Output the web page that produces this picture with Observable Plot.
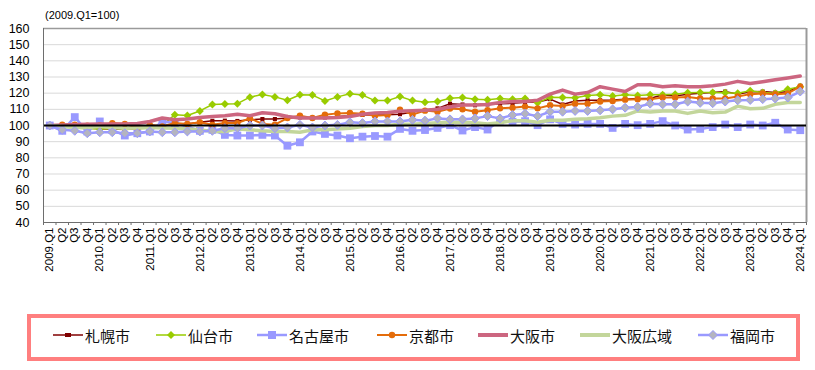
<!DOCTYPE html>
<html><head><meta charset="utf-8">
<script src="https://cdn.jsdelivr.net/npm/d3@7"></script>
<script src="https://cdn.jsdelivr.net/npm/@observablehq/plot@0.6"></script>
<style>
body{margin:0;background:#fff;font-family:"Liberation Sans",Arial,"Noto Sans CJK JP",sans-serif;}
#wrap{position:relative;width:815px;height:370px;overflow:hidden;}
#chart{position:absolute;left:0;top:0;}
#title{position:absolute;left:45px;top:9px;font-size:11px;color:#000;}
#legendBox{position:absolute;left:27px;top:314px;width:773px;height:47px;border:4.5px solid #FF7F7F;box-sizing:border-box;}
.item{position:absolute;top:325px;height:20px;display:flex;align-items:center;font-size:15px;font-family:"Noto Sans CJK JP",sans-serif;color:#111;white-space:nowrap;}
.item svg{margin-right:2px;}
</style>
</head><body>
<div id="wrap">
  <div id="chart"></div>
  <div id="title">(2009.Q1=100)</div>
  <div id="legendBox"></div>
</div>
<script>
// ---- data ----
const quarters = ["2009.Q1","Q2","Q3","Q4","2010.Q1","Q2","Q3","Q4","2011.Q1","Q2","Q3","Q4",
"2012.Q1","Q2","Q3","Q4","2013.Q1","Q2","Q3","Q4","2014.Q1","Q2","Q3","Q4","2015.Q1","Q2","Q3","Q4",
"2016.Q1","Q2","Q3","Q4","2017.Q1","Q2","Q3","Q4","2018.Q1","Q2","Q3","Q4","2019.Q1","Q2","Q3","Q4",
"2020.Q1","Q2","Q3","Q4","2021.Q1","Q2","Q3","Q4","2022.Q1","Q2","Q3","Q4","2023.Q1","Q2","Q3","Q4","2024.Q1"];

const seriesNames = ["札幌市","仙台市","名古屋市","京都市","大阪市","大阪広域","福岡市"];

const sapporo = [100,99.5,99,98.5,98,97.8,97.5,98,99,100,100.5,101,102,102.9,103,102.8,103.5,104,104,104.6,
105,104.5,105,105.5,106,106.5,106.5,106.7,107,108.3,109.4,110.6,113.5,113,112.5,113,113.5,113.7,114.4,114.6,
116.3,113,115.2,115.6,115.6,115.8,116.3,116.7,116.7,119,118.3,119.4,120,120.4,121,119.4,120.8,121,120.4,120.8,124.6];

const sendai = [100,99,98.5,98,98,98,98,98,98.5,100,106.7,106.2,109,113,113.3,113.5,117.5,119.2,117.7,115.6,
119,118.8,115.2,117.7,119.6,118.8,115.4,115.4,117.9,115.4,114.4,114.8,116.9,117.3,116.3,116,116.7,116.2,116.7,114,
117.5,117.3,117.1,118.5,119,118.3,119,118.5,119,119,119.4,120.2,120.4,120.4,120.2,120,121.5,120.4,120,122.5,124];

const nagoya = [100,96.7,105.2,96.3,102.5,97.3,93.8,95.2,96.3,102.5,101.5,99.4,96.7,97.3,94.2,93.8,93.8,94.2,93.8,87.5,
89.6,96.3,94.8,93.8,92.1,93.1,93.5,93.1,97.9,96.7,97.2,98.5,100.2,96.9,99,97.5,103.1,102.3,102.7,100.2,
103.8,101,100.6,101,101,98.5,101,100.2,101,102.7,100,97.5,97.9,99,100.6,99,100.6,100,101.7,97.5,97.1];

const kyoto = [100,100.5,100.5,99.8,100,101.5,101,98.5,100.4,99.4,101.5,101,102,100.4,101.5,101.5,104.5,101,100.5,104.6,
106,104.6,106.7,107.5,107.7,107.3,106,106.5,109.8,106.7,109.2,108.5,110.5,110,108.5,109.5,110.6,111,111.7,110.6,
112.5,112,113.5,113.5,114.8,115.2,116,116.2,116.2,117.3,117.3,117.7,116.7,116.7,116.7,117.9,119.4,119.8,119.4,119.8,124];

const osaka = [100,100.3,100.6,100.8,101,101,101,101.3,102.5,104.6,103.5,104,105,105.6,106,107,106,107.9,107.3,105.6,
104.6,104.6,104.6,105,105.6,107,107.7,108.1,108.8,109.2,109.4,110,111.5,112.7,112.7,113,114.2,114.8,114.8,115.6,
119.4,121.9,119.4,120.4,124,122.5,121,125.2,125.2,124,124.6,124,124,124.6,125.6,127.3,126,127.1,128.3,129.4,130.6];

const osakaWide = [100,99.4,98.8,98.8,99.4,98.8,98.3,98.5,98.8,98.5,98.3,97.8,97.3,96.3,96.3,97.9,97.3,96.7,96.3,96.3,
95.8,97.3,97.3,97.9,98.3,99.4,100,100,100.8,100.8,101.2,101.7,102,102,101.7,101,101.7,103,103,102,
103.3,103.3,103.8,104.2,104.8,105.8,106.3,109,108.3,109,109,107.5,109,107.9,108.3,112,110.4,110.6,113.1,114.2,114.2];

const fukuoka = [100,97.3,96.7,95.2,95.8,95.8,95.2,95.2,96.3,95.8,95.8,96.3,96.3,96.7,98.3,98.3,100,100,98.3,98.8,
100.4,98.8,100,100.4,102,101.5,102.5,102.5,102.5,103.5,103,104.4,103.8,103.8,104.4,105.8,104.4,106.5,107.3,105.8,
108.5,108.5,109,109,109.4,110,111,111.5,113.5,113.1,113.1,114.8,114,113.8,114.8,115.6,115.8,116.3,116.7,117.3,121];

const yTicks = [40,50,60,70,80,90,100,110,120,130,140,150,160];

// ---- styles ----
const seriesValues = [sapporo, sendai, nagoya, kyoto, osaka, osakaWide, fukuoka];
const styles = [
  {color:"#800000", width:1.5, symbol:"square",  r:2.3, fill:"#800000", mstroke:"none"},
  {color:"#99CC00", width:1.5, symbol:"diamond2", r:3.6, fill:"#99CC00", mstroke:"none"},
  {color:"#9999FF", width:2.5, symbol:"square",  r:4.4, fill:"#9999FF", mstroke:"none"},
  {color:"#E46C0A", width:2,   symbol:"circle",  r:3.2, fill:"#E46C0A", mstroke:"none"},
  {color:"#CC6680", width:3.5, symbol:null},
  {color:"#C3D69B", width:3.5, symbol:null},
  {color:"#9999FF", width:2.5, symbol:"diamond2", r:4, fill:"#B4B4C0", mstroke:"#9999FF"}
];

const n = quarters.length;
const idx = d3.range(n);
const bounds = d3.range(n + 1).map(i => i - 0.5);

const marks = [
  Plot.ruleY(yTicks, {y: d => d, stroke:"#d9d9d9", strokeWidth:1}),
  Plot.ruleY([160], {stroke:"#9a9a9a", strokeWidth:1.5}),
  Plot.ruleX([n - 0.5], {x: d => d, stroke:"#9a9a9a", strokeWidth:2}),
  Plot.axisY({ticks: yTicks, tickSize:0, tickPadding:14, fontSize:12.5, label:null}),
  Plot.axisX({ticks: idx, tickFormat: i => quarters[i], tickSize:0, tickPadding:5, tickRotate:-90, fontSize:11.5, label:null}),
  Plot.axisX({ticks: bounds, tickFormat: () => "", tickSize:3, stroke:"#6e6e6e", label:null})
];

seriesValues.forEach((vals, k) => {
  const s = styles[k];
  const rows = vals.map((v, i) => ({i, v}));
  marks.push(Plot.line(rows, {x:"i", y:"v", stroke:s.color, strokeWidth:s.width, strokeLinejoin:"round"}));
  if (s.symbol) marks.push(Plot.dot(rows, {x:"i", y:"v", symbol:s.symbol, r:s.r, fill:s.fill, stroke:s.mstroke, strokeWidth:1}));
});

marks.push(Plot.ruleY([100], {stroke:"#000", strokeWidth:2}));
marks.push(Plot.ruleX([-0.5], {x: d => d, stroke:"#6e6e6e", strokeWidth:1}));
marks.push(Plot.ruleY([40], {stroke:"#6e6e6e", strokeWidth:1}));

const chart = Plot.plot({
  width:815, height:300,
  marginLeft:43, marginRight:9, marginTop:28, marginBottom:78,
  style:{fontFamily:"'Liberation Sans', Arial, sans-serif", fontSize:"12px", color:"#000", background:"transparent", overflow:"visible"},
  x:{type:"linear", domain:[-0.5, n - 0.5], axis:null, label:null},
  y:{domain:[40,160], axis:null, label:null},
  marks
});
document.getElementById("chart").appendChild(chart);

// ---- legend ----
const legendLeft = [53, 156, 257, 377, 478, 580, 698];
const wrap = document.getElementById("wrap");
seriesNames.forEach((name, k) => {
  const s = styles[k];
  const div = document.createElement("div");
  div.className = "item";
  div.style.left = legendLeft[k] + "px";
  let marker = "";
  if (s.symbol === "square") {
    const a = k === 0 ? 6 : 8, b = k === 0 ? 4 : 8;
    marker = `<rect x="${15 - a/2}" y="${8 - b/2}" width="${a}" height="${b}" fill="${s.fill}"/>`;
  } else if (s.symbol === "circle") {
    marker = `<circle cx="15" cy="8" r="${s.r}" fill="${s.fill}"/>`;
  } else if (s.symbol === "diamond2") {
    const h = k === 1 ? 4 : 4.5;
    marker = `<path d="M15,${8-h}L${15+h},8L15,${8+h}L${15-h},8Z" fill="${s.fill}" stroke="${s.mstroke}"/>`;
  }
  div.innerHTML = `<svg width="30" height="16"><line x1="0" y1="8" x2="30" y2="8" stroke="${s.color}" stroke-width="${k===4||k===5?4:s.width}"/>${marker}</svg><span>${name}</span>`;
  wrap.appendChild(div);
});
</script>
</body></html>
